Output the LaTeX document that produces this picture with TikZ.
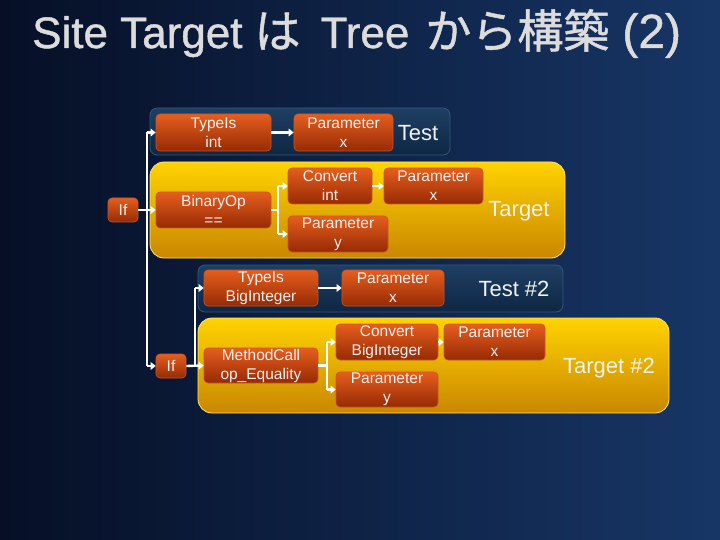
\documentclass[tikz,border=0pt]{standalone}
\usepackage{fontspec}
\setmainfont{Liberation Sans}
\newfontfamily\jp[FakeBold=1]{Noto Sans CJK JP}
\newfontfamily\titlefont[FakeBold=1]{Liberation Sans}
\usetikzlibrary{arrows.meta}
\definecolor{bgL}{HTML}{060F26}
\definecolor{bgR}{HTML}{173666}
\definecolor{testTop}{HTML}{1E3F63}
\definecolor{testBot}{HTML}{0E2743}
\definecolor{testEdge}{HTML}{35577C}
\definecolor{yelTop}{HTML}{FFD300}
\definecolor{yelBot}{HTML}{C98700}
\definecolor{yelEdge}{HTML}{FFE27A}
\definecolor{ndTop}{HTML}{E65E1E}
\definecolor{ndBot}{HTML}{962A04}
\definecolor{ndEdge}{HTML}{C8562A}
\definecolor{ndText}{HTML}{F2F2F2}
\definecolor{titleGray}{HTML}{DCDCDC}
\begin{document}
\begin{tikzpicture}[x=1pt,y=-1pt,
  exnode/.style={draw=ndEdge, line width=0.6pt, rounded corners=4pt,
    top color=ndTop, bottom color=ndBot, text=ndText, align=center,
    inner sep=0pt, font=\fontsize{15.5}{19}\selectfont},
  testpanel/.style={draw=testEdge, line width=0.8pt, rounded corners=7pt,
    top color=testTop, bottom color=testBot},
  yelpanel/.style={draw=yelEdge, line width=0.8pt, rounded corners=14pt,
    top color=yelTop, bottom color=yelBot},
  plabel/.style={text=ndText, font=\fontsize{22}{24}\selectfont, inner sep=0pt},
  arr/.style={draw=white, line width=2.4pt, -{Triangle[length=5pt,width=7.5pt]}},
  ln/.style={draw=white, line width=2.4pt}]
\useasboundingbox (0,0) rectangle (720,540);
\shade[left color=bgL, right color=bgR] (0,0) rectangle (720,540);
% title
\node[anchor=base west, text=titleGray, inner sep=0pt, font=\titlefont\fontsize{44}{50}\selectfont] (title) at (32,48)
  {Site Target\hspace{12pt}{\jp\fontsize{46}{48}\selectfont は}\hspace{20pt}Tree\hspace{16pt}{\jp\fontsize{46}{48}\selectfont から構築}\hspace{13pt}{\fontsize{48}{50}\selectfont (2)}};
% panels
\draw[testpanel] (150,108) rectangle (450,155);
\draw[yelpanel] (150,162) rectangle (565,258);
\draw[testpanel] (198,265) rectangle (563,312);
\draw[yelpanel] (198,318) rectangle (669,413);
\node[plabel] (lTest) at (418,133) {Test};
\node[plabel] (lTarget) at (519,211) {Target};
\node[plabel] (lTest2) at (514,289) {Test \#2};
\node[plabel] (lTarget2) at (609,368) {Target \#2};
% nodes
\node[exnode, minimum width=115, minimum height=37] (typeint) at (213.5,132.5) {TypeIs\\int};
\node[exnode, minimum width=99, minimum height=37] (px1) at (343.5,132.5) {Parameter\\x};
\node[exnode, minimum width=30, minimum height=24] (if1) at (123,210) {If};
\node[exnode, minimum width=115, minimum height=36] (binop) at (213.5,210) {BinaryOp\\==};
\node[exnode, minimum width=84, minimum height=36] (convint) at (330,186) {Convert\\int};
\node[exnode, minimum width=100, minimum height=36] (py1) at (338,234) {Parameter\\y};
\node[exnode, minimum width=99, minimum height=36] (px2) at (433.5,186) {Parameter\\x};
\node[exnode, minimum width=114, minimum height=36] (typebig) at (261,288) {TypeIs\\BigInteger};
\node[exnode, minimum width=102, minimum height=36] (px3) at (393,288) {Parameter\\x};
\node[exnode, minimum width=30, minimum height=24] (if2) at (171,366) {If};
\node[exnode, minimum width=114, minimum height=35] (mcall) at (261,365.5) {MethodCall\\op\_Equality};
\node[exnode, minimum width=102, minimum height=36] (convbig) at (387,342) {Convert\\BigInteger};
\node[exnode, minimum width=102, minimum height=35] (py2) at (387,389.5) {Parameter\\y};
\node[exnode, minimum width=101, minimum height=36] (px4) at (494.5,342) {Parameter\\x};
% trunk coordinates
\coordinate (tA) at (147,0);
\coordinate (tB) at (195,0);
\coordinate (b1) at (278,0);
\coordinate (b2) at (327,0);
% connectors
\draw[ln] (tA |- typeint.west) -- (tA |- if2.west);
\draw[arr] (tA |- typeint.west) -- (typeint.west);
\draw[arr] (tA |- if2.west) -- (if2.west);
\draw[arr] (if1.east) -- (binop.west);
\draw[arr] (typeint.east) -- (px1.west);
\draw[ln] (binop.east) -- (b1 |- binop.east);
\draw[ln] (b1 |- convint.west) -- (b1 |- py1.west);
\draw[arr] (b1 |- convint.west) -- (convint.west);
\draw[arr] (b1 |- py1.west) -- (py1.west);
\draw[arr] (convint.east) -- (px2.west);
\draw[ln] (tB |- typebig.west) -- (tB |- mcall.west);
\draw[arr] (if2.east) -- (mcall.west);
\draw[arr] (tB |- typebig.west) -- (typebig.west);
\draw[arr] (typebig.east) -- (px3.west);
\draw[ln] (mcall.east) -- (b2 |- mcall.east);
\draw[ln] (b2 |- convbig.west) -- (b2 |- py2.west);
\draw[arr] (b2 |- convbig.west) -- (convbig.west);
\draw[arr] (b2 |- py2.west) -- (py2.west);
\draw[arr] (convbig.east) -- (px4.west);
\end{tikzpicture}
\end{document}
